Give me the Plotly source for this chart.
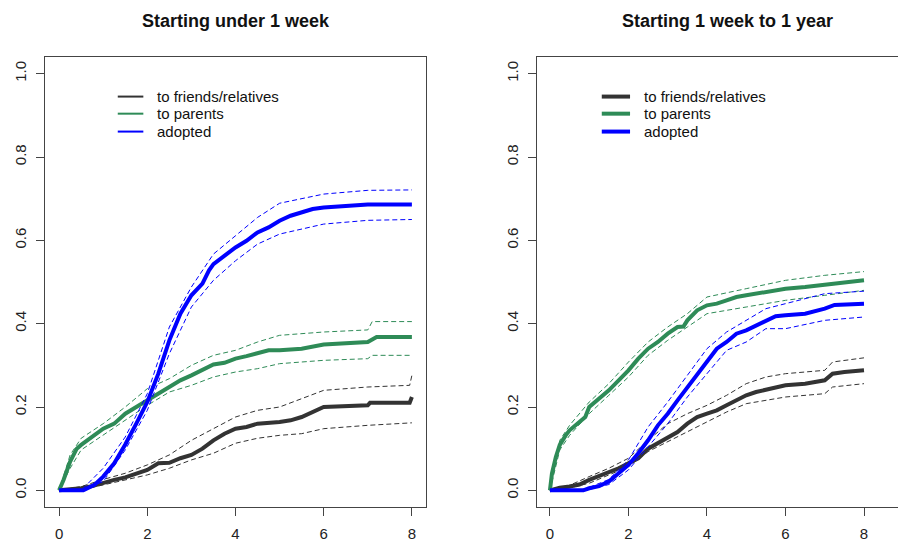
import plotly.graph_objects as go

# ---------------- data ----------------
titles = ["Starting under 1 week", "Starting 1 week to 1 year"]
series_names = ["to friends/relatives", "to parents", "adopted"]
x_ticks = [0, 2, 4, 6, 8]
y_ticks = [0.0, 0.2, 0.4, 0.6, 0.8, 1.0]
y_tick_labels = ["0.0", "0.2", "0.4", "0.6", "0.8", "1.0"]

# Left panel: starting under 1 week
L_friends_x = [0, 0.5, 0.75, 1.0, 1.25, 1.5, 1.75, 2.0, 2.25, 2.5, 2.75, 3.0, 3.25, 3.5, 3.75, 4.0, 4.25, 4.5, 5.0, 5.25, 5.5, 5.75, 6.0, 7.0, 7.05, 7.95, 8.0]
L_friends_y = [0, 0.005, 0.01, 0.018, 0.025, 0.031, 0.041, 0.049, 0.065, 0.066, 0.077, 0.085, 0.10, 0.12, 0.136, 0.148, 0.152, 0.16, 0.164, 0.168, 0.176, 0.188, 0.20, 0.204, 0.21, 0.21, 0.224]
L_friends_ci_x = [0, 0.5, 1.0, 1.5, 2.0, 2.5, 3.0, 3.5, 4.0, 4.5, 5.0, 5.5, 6.0, 7.0, 7.95, 8.0]
L_friends_hi = [0, 0.009, 0.026, 0.041, 0.061, 0.085, 0.12, 0.148, 0.176, 0.192, 0.20, 0.22, 0.24, 0.248, 0.252, 0.276]
L_friends_lo = [0, 0.002, 0.013, 0.025, 0.037, 0.053, 0.073, 0.089, 0.113, 0.125, 0.132, 0.136, 0.148, 0.156, 0.162, 0.162]

L_parents_x = [0, 0.1, 0.25, 0.4, 0.5, 0.75, 1.0, 1.25, 1.5, 1.75, 2.0, 2.25, 2.5, 2.75, 3.0, 3.25, 3.5, 3.75, 4.0, 4.25, 4.5, 4.75, 5.0, 5.5, 6.0, 6.5, 7.0, 7.2, 8.0]
L_parents_y = [0, 0.025, 0.069, 0.10, 0.109, 0.128, 0.148, 0.16, 0.184, 0.2, 0.216, 0.232, 0.248, 0.264, 0.276, 0.288, 0.302, 0.306, 0.316, 0.322, 0.33, 0.336, 0.336, 0.34, 0.35, 0.352, 0.356, 0.368, 0.368]
L_parents_ci_x = [0, 0.25, 0.5, 1.0, 1.5, 2.0, 2.5, 3.0, 3.5, 4.0, 4.5, 5.0, 6.0, 7.0, 7.1, 8.0]
L_parents_hi = [0, 0.085, 0.125, 0.16, 0.20, 0.244, 0.268, 0.30, 0.324, 0.336, 0.356, 0.372, 0.38, 0.385, 0.405, 0.405]
L_parents_lo = [0, 0.053, 0.097, 0.132, 0.168, 0.204, 0.236, 0.252, 0.272, 0.284, 0.292, 0.304, 0.312, 0.316, 0.324, 0.324]

L_adopted_x = [0, 0.55, 0.8, 1.0, 1.25, 1.5, 1.75, 2.0, 2.25, 2.5, 2.75, 3.0, 3.25, 3.4, 3.5, 3.75, 4.0, 4.25, 4.5, 4.75, 5.0, 5.25, 5.5, 5.75, 6.0, 6.5, 7.0, 8.0]
L_adopted_y = [0, 0, 0.013, 0.033, 0.065, 0.11, 0.16, 0.212, 0.28, 0.36, 0.424, 0.468, 0.496, 0.528, 0.543, 0.563, 0.583, 0.599, 0.619, 0.631, 0.647, 0.659, 0.667, 0.675, 0.679, 0.683, 0.686, 0.686]
L_adopted_ci_x = [0, 0.5, 1.0, 1.5, 2.0, 2.5, 3.0, 3.5, 4.0, 4.5, 5.0, 6.0, 7.0, 8.0]
L_adopted_hi = [0, 0, 0.053, 0.128, 0.232, 0.392, 0.488, 0.567, 0.611, 0.655, 0.689, 0.711, 0.72, 0.721]
L_adopted_lo = [0, 0, 0.021, 0.097, 0.192, 0.328, 0.44, 0.504, 0.551, 0.591, 0.615, 0.639, 0.648, 0.650]

# Right panel: starting 1 week to 1 year
R_friends_x = [0, 0.25, 0.5, 0.75, 1.0, 1.25, 1.5, 1.75, 2.0, 2.25, 2.5, 2.75, 3.0, 3.25, 3.5, 3.75, 4.0, 4.25, 4.5, 4.75, 5.0, 5.25, 5.5, 6.0, 6.5, 7.0, 7.2, 7.5, 8.0]
R_friends_y = [0, 0.006, 0.009, 0.014, 0.025, 0.034, 0.045, 0.053, 0.065, 0.077, 0.10, 0.113, 0.128, 0.14, 0.16, 0.176, 0.184, 0.192, 0.204, 0.216, 0.228, 0.236, 0.242, 0.252, 0.256, 0.264, 0.28, 0.284, 0.288]
R_friends_ci_x = [0, 0.5, 1.0, 1.5, 2.0, 2.5, 3.0, 3.5, 4.0, 4.5, 5.0, 5.5, 6.0, 7.0, 7.2, 8.0]
R_friends_hi = [0, 0.012, 0.033, 0.053, 0.077, 0.12, 0.16, 0.184, 0.204, 0.228, 0.256, 0.272, 0.28, 0.288, 0.308, 0.318]
R_friends_lo = [0, 0.006, 0.017, 0.037, 0.057, 0.093, 0.117, 0.14, 0.164, 0.188, 0.208, 0.216, 0.224, 0.232, 0.248, 0.256]

R_parents_x = [0, 0.05, 0.15, 0.25, 0.4, 0.5, 0.75, 0.9, 1.0, 1.25, 1.5, 1.75, 2.0, 2.25, 2.5, 2.75, 3.0, 3.25, 3.4, 3.5, 3.75, 4.0, 4.25, 4.5, 4.75, 5.0, 5.5, 6.0, 6.5, 7.0, 7.5, 8.0]
R_parents_y = [0, 0.04, 0.08, 0.109, 0.132, 0.144, 0.164, 0.176, 0.20, 0.22, 0.24, 0.264, 0.288, 0.316, 0.34, 0.356, 0.376, 0.392, 0.393, 0.408, 0.432, 0.444, 0.448, 0.456, 0.464, 0.468, 0.476, 0.484, 0.488, 0.494, 0.50, 0.504]
R_parents_ci_x = [0, 0.25, 0.5, 1.0, 1.5, 2.0, 2.5, 3.0, 3.5, 4.0, 5.0, 6.0, 7.0, 8.0]
R_parents_hi = [0, 0.12, 0.156, 0.212, 0.256, 0.308, 0.356, 0.392, 0.424, 0.464, 0.484, 0.504, 0.516, 0.525]
R_parents_lo = [0, 0.097, 0.132, 0.184, 0.228, 0.272, 0.324, 0.36, 0.392, 0.424, 0.44, 0.456, 0.468, 0.48]

R_adopted_x = [0, 0.85, 1.0, 1.25, 1.5, 1.75, 2.0, 2.25, 2.5, 2.75, 3.0, 3.25, 3.5, 3.75, 4.0, 4.25, 4.5, 4.75, 5.0, 5.25, 5.5, 5.75, 6.0, 6.5, 7.0, 7.25, 8.0]
R_adopted_y = [0, 0, 0.005, 0.01, 0.021, 0.041, 0.061, 0.089, 0.12, 0.156, 0.184, 0.216, 0.248, 0.276, 0.308, 0.34, 0.356, 0.376, 0.384, 0.396, 0.408, 0.418, 0.42, 0.424, 0.436, 0.445, 0.448]
R_adopted_ci_x = [0, 0.85, 1.0, 1.5, 2.0, 2.5, 3.0, 3.5, 4.0, 4.5, 5.0, 5.5, 6.0, 7.0, 8.0]
R_adopted_hi = [0, 0, 0.007, 0.026, 0.073, 0.152, 0.212, 0.276, 0.34, 0.38, 0.408, 0.436, 0.448, 0.472, 0.478]
R_adopted_lo = [0, 0, 0.002, 0.014, 0.049, 0.105, 0.16, 0.224, 0.28, 0.336, 0.356, 0.388, 0.388, 0.408, 0.416]

# ---------------- styling ----------------
colors = ["#333333", "#2E8B57", "#0000FF"]
FONT = "Liberation Sans, Arial, sans-serif"
# the page has an 8px body margin, so the figure is drawn 8px in from the corner
OFF = 8
W, H = 906 - OFF, 543 - OFF


def px_x(px):
    return (px - OFF) / W


def px_y(py):
    return 1 - (py - OFF) / H


panels = [
    [(L_friends_x, L_friends_y, L_friends_ci_x, L_friends_hi, L_friends_lo),
     (L_parents_x, L_parents_y, L_parents_ci_x, L_parents_hi, L_parents_lo),
     (L_adopted_x, L_adopted_y, L_adopted_ci_x, L_adopted_hi, L_adopted_lo)],
    [(R_friends_x, R_friends_y, R_friends_ci_x, R_friends_hi, R_friends_lo),
     (R_parents_x, R_parents_y, R_parents_ci_x, R_parents_hi, R_parents_lo),
     (R_adopted_x, R_adopted_y, R_adopted_ci_x, R_adopted_hi, R_adopted_lo)],
]

fig = go.Figure()
for p, panel in enumerate(panels):
    xa = "x" if p == 0 else "x2"
    ya = "y" if p == 0 else "y2"
    for s, (sx, sy, cx, hi, lo) in enumerate(panel):
        for band in (lo, hi):
            fig.add_trace(go.Scatter(x=cx, y=band, mode="lines", xaxis=xa, yaxis=ya,
                                     line=dict(color=colors[s], width=1, dash="5px,3px"),
                                     showlegend=False, hoverinfo="skip"))
        fig.add_trace(go.Scatter(x=sx, y=sy, mode="lines", xaxis=xa, yaxis=ya,
                                 line=dict(color=colors[s], width=4),
                                 name=series_names[s], showlegend=False))

# plot area geometry in page pixels
ydom = [px_y(507), px_y(57)]
x1dom = [px_x(45), px_x(426)]
x2dom = [px_x(537), 1.0]

axis_common = dict(showgrid=False, zeroline=False, showline=True, linecolor="#444444",
                   linewidth=1, ticks="outside", ticklen=8, tickcolor="#444444",
                   automargin=False,
                   tickfont=dict(family=FONT, size=15, color="#222222"))

fig.update_layout(
    width=W, height=H, margin=dict(l=0, r=0, t=0, b=0, pad=0),
    paper_bgcolor="white", plot_bgcolor="white", showlegend=False,
    xaxis=dict(domain=x1dom, range=[-0.32, 8.32], tickvals=x_ticks, mirror=True,
               anchor="y", ticklabelstandoff=5, **axis_common),
    yaxis=dict(domain=ydom, range=[-0.04, 1.04], tickvals=y_ticks, ticktext=y_tick_labels,
               tickangle=-90, mirror=True, anchor="x", ticklabelstandoff=4, **axis_common),
    xaxis2=dict(domain=x2dom, range=[-0.33, 9.07], tickvals=x_ticks, mirror=True,
                anchor="y2", ticklabelstandoff=5, **axis_common),
    yaxis2=dict(domain=ydom, range=[-0.04, 1.04], tickvals=y_ticks, ticktext=y_tick_labels,
                tickangle=-90, mirror=False, anchor="x2", ticklabelstandoff=4, **axis_common),
)

# titles
for t, cx in zip(titles, [235.5, 727]):
    fig.add_annotation(text="<b>" + t + "</b>", x=px_x(cx), y=px_y(21), xref="paper",
                       yref="paper", xanchor="center", yanchor="middle", showarrow=False,
                       font=dict(family=FONT, size=18, color="#111111"))

# legends (drawn inside each panel, in data coordinates)
legend_rows_y = [0.945, 0.904, 0.861]
legend_specs = [
    ("x", "y", 1.33, 1.91, 2.18, 2),
    ("x2", "y2", 1.32, 2.04, 2.34, 4),
]
for xr, yr, x0, x1, xt, lw in legend_specs:
    for s, name in enumerate(series_names):
        fig.add_shape(type="line", xref=xr, yref=yr, x0=x0, x1=x1,
                      y0=legend_rows_y[s], y1=legend_rows_y[s],
                      line=dict(color=colors[s], width=lw))
        fig.add_annotation(text=name, xref=xr, yref=yr, x=xt, y=legend_rows_y[s],
                           xanchor="left", yanchor="middle", showarrow=False,
                           font=dict(family=FONT, size=15, color="#111111"))

fig.write_html("out.html")
